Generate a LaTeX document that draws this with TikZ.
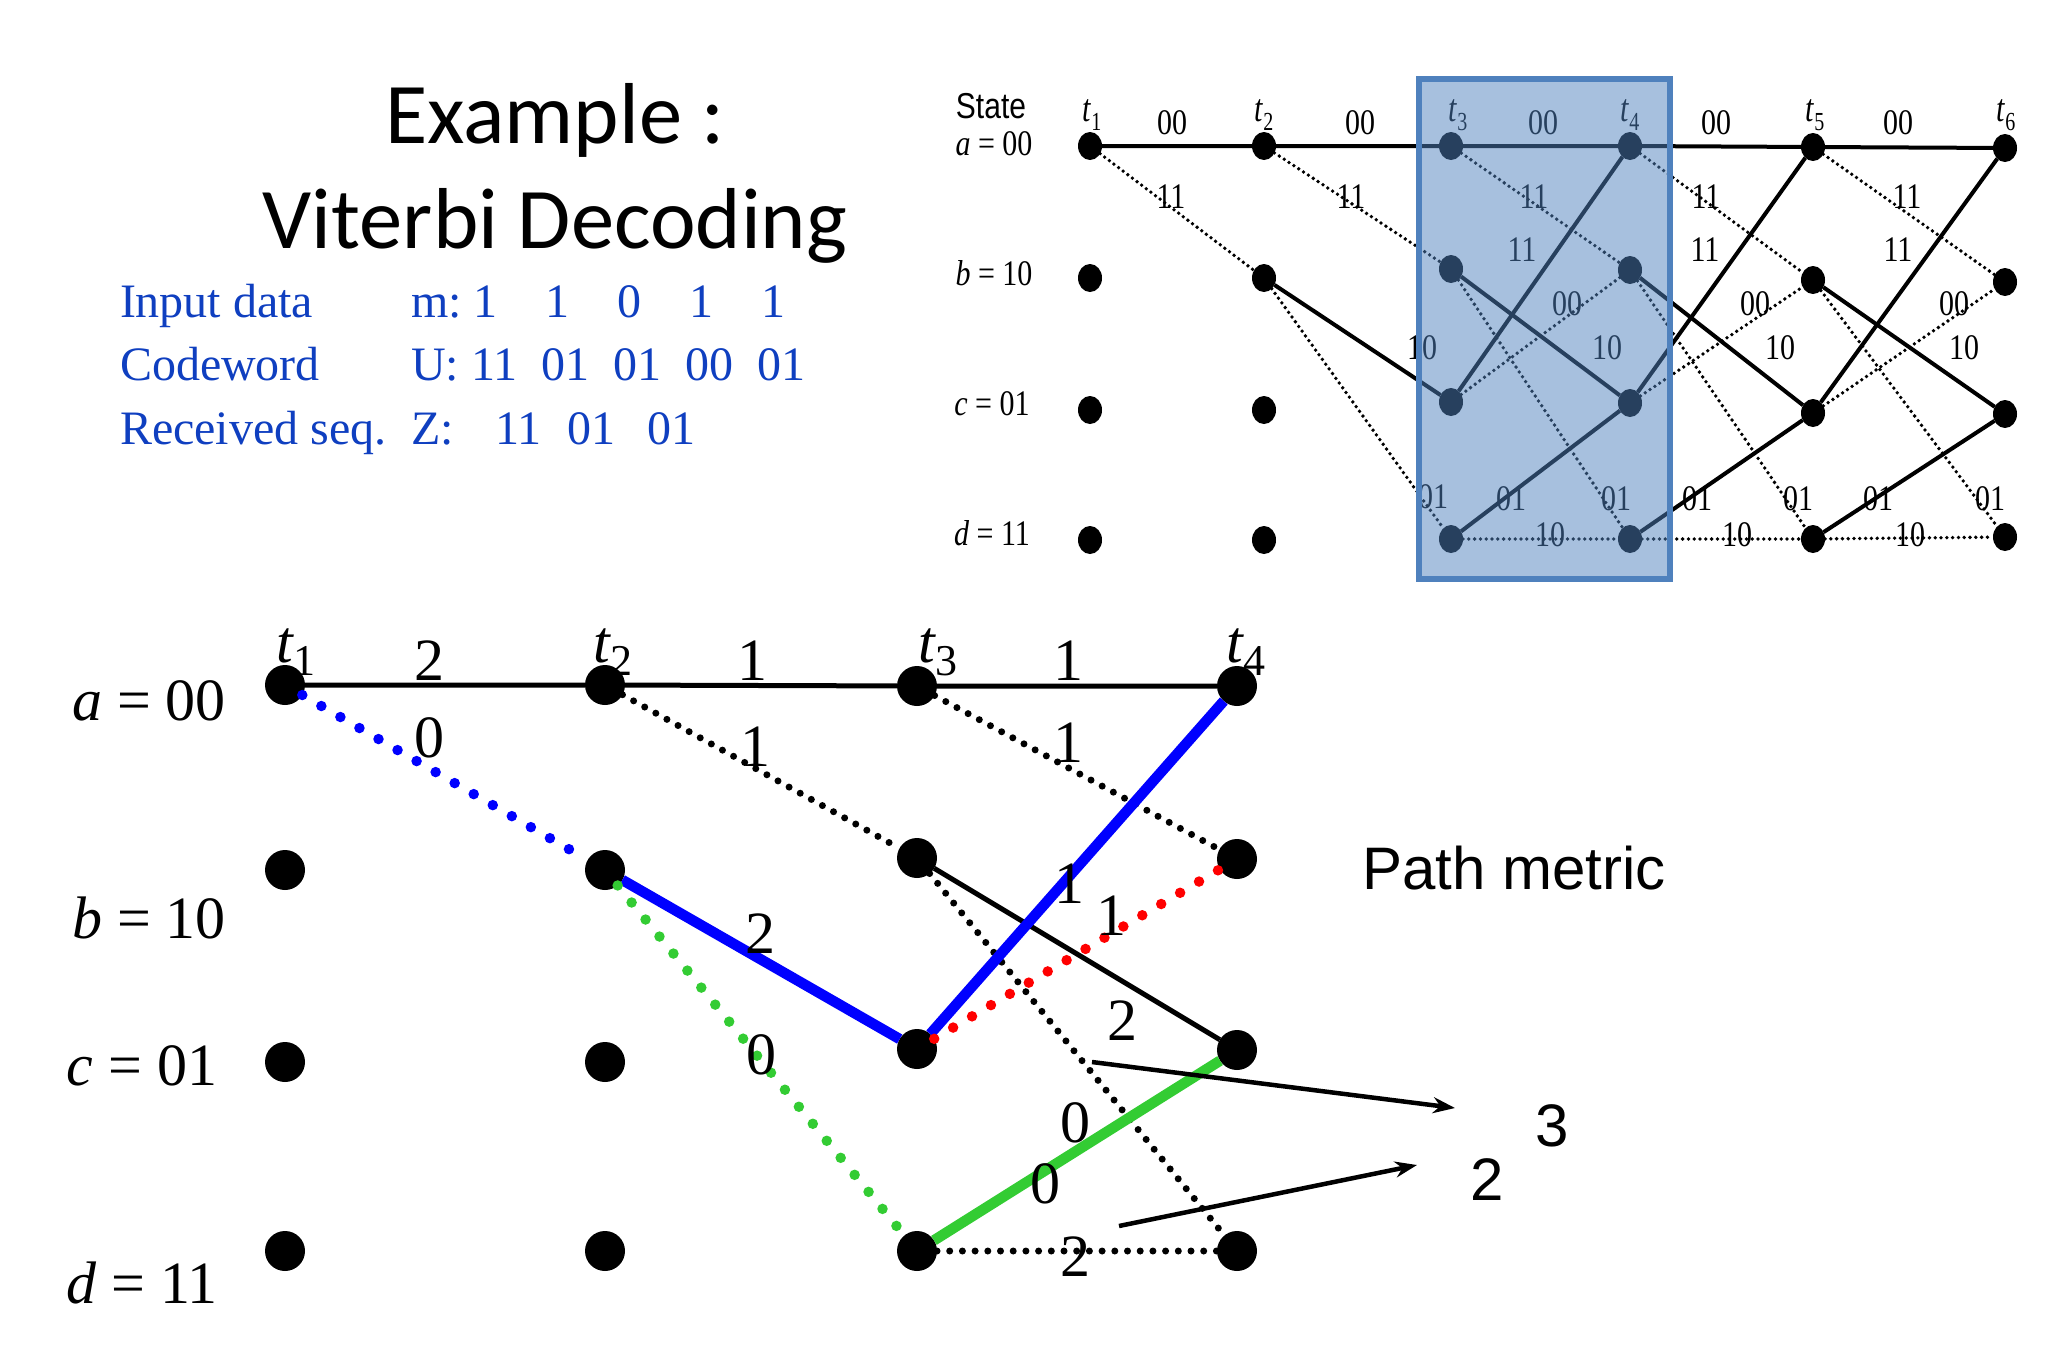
\documentclass[tikz,border=0pt]{standalone}
\usepackage{fontspec}
\usepackage{graphicx}
\setmainfont{Liberation Serif}
\newfontfamily\arialf{Liberation Sans}
\newfontfamily\calib{Carlito}
\usetikzlibrary{arrows.meta,shapes.geometric}
\definecolor{inkblue}{HTML}{0F3FC0}
\definecolor{boxblue}{HTML}{4F81BD}
\definecolor{pgreen}{HTML}{33CC33}
\newcommand{\sz}[1]{\fontsize{#1}{#1}\selectfont}
\newcommand{\bigt}[1]{\textit{t}\raisebox{-.22em}{\sz{44}#1}}
\newcommand{\smallt}[1]{\textit{t}\raisebox{-.22em}{\sz{20}#1}}
\newcommand{\tall}[1]{\scalebox{1}[1.2]{#1}}
\tikzset{
  txt/.style={inner sep=0pt,outer sep=0pt},
  titletxt/.style={txt,anchor=base,font=\calib\sz{86.5}},
  infotxt/.style={txt,anchor=base west,text=inkblue,font=\sz{48}},
  slabel/.style={txt,font=\sz{30}},
  blabel/.style={txt,font=\sz{60}},
  sanslabel/.style={txt,font=\arialf\sz{60}},
  sdot/.style={ellipse,fill=black,inner sep=0pt,minimum width=24pt,minimum height=28pt,outer sep=0pt},
  bdot/.style={circle,fill=black,inner sep=0pt,minimum size=40pt,outer sep=0pt},
  ssolid/.style={line width=4pt},
  sdotted/.style={line width=3.8pt,line cap=round,dash pattern=on 0pt off 5.8pt},
  bsolid/.style={line width=5pt},
  bdotted/.style={line width=7pt,line cap=round,dash pattern=on 0pt off 12.7pt},
  bthick/.style={line width=10.5pt},
  cdotted/.style={line width=10.5pt,line cap=round,dash pattern=on 0pt off 22pt},
  pointer/.style={line width=4.5pt,-{Stealth[length=22pt,width=16pt]}},
  hilite/.style={draw=boxblue,line width=6pt,fill=boxblue,fill opacity=.5,draw opacity=1},
}
\begin{document}
\begin{tikzpicture}[x=1pt,y=-1pt]
\useasboundingbox (0,0) rectangle (2048,1365);
% title and info
\node[titletxt] (title1) at (555,143) {Example :};
\node[titletxt] (title2) at (555,248) {Viterbi Decoding};
\node[infotxt] (i1) at (120,317) {Input data};
\node[infotxt] (i2) at (120,380) {Codeword};
\node[infotxt] (i3) at (120,444) {Received seq.};
\node[infotxt] (v1) at (411,317) {m:~1~~~~1~~~~0~~~~1~~~~1};
\node[infotxt] (v2) at (411,380) {U:~11~~01~~01~~00~~01};
\node[infotxt] (v3) at (411,444) {Z:\hspace{42pt}11\hspace{25.6pt}01\hspace{32.5pt}01};
% small trellis
\foreach \n/\x/\y in {a1/1090/146,a2/1264/146,a3/1451/146,a4/1630/146,a5/1813/147,a6/2005/148,
  b1/1090/278,b2/1264/278,b3/1451/269,b4/1630/270,b5/1813/280,b6/2005/282,
  c1/1090/410,c2/1264/410,c3/1451/402,c4/1630/403,c5/1813/413,c6/2005/414,
  d1/1090/540,d2/1264/540,d3/1451/539,d4/1630/539,d5/1813/539,d6/2005/537}
  \node[sdot] (\n) at (\x,\y) {};
\draw[ssolid] (a1)--(a2)--(a3)--(a4)--(a5)--(a6);
\foreach \p/\q in {a1/b2,a2/b3,a3/b4,a4/b5,a5/b6,c3/b4,c4/b5,c5/b6,b2/d3,b3/d4,b4/d5,b5/d6,d3/d4,d4/d5,d5/d6}
  \draw[sdotted] (\p)--(\q);
\foreach \p/\q in {b2/c3,b3/c4,b4/c5,b5/c6,c3/a4,c4/a5,c5/a6,d3/c4,d4/c5,d5/c6}
  \draw[ssolid] (\p)--(\q);
\foreach \n/\x/\y/\t in {s1/1172/123/00,s2/1360/123/00,s3/1543/123/00,s4/1716/123/00,s5/1898/123/00,
  s6/1171/197/11,s7/1351/197/11,s8/1534/197/11,s9/1706/197/11,s10/1907/197/11,
  s11/1522/250/11,s12/1705/250/11,s13/1898/250/11,
  s14/1567/304/00,s15/1755/304/00,s16/1954/304/00,
  s17/1422/348/10,s18/1607/348/10,s19/1780/348/10,s20/1964/348/10,
  s21/1433/497/01,s22/1511/499/01,s23/1616/499/01,s24/1697/499/01,s25/1798/499/01,s26/1878/499/01,s27/1990/499/01,
  s28/1550/535/10,s29/1737/535/10,s30/1910/535/10}
  \node[slabel] (\n) at (\x,\y) {\tall{\t}};
\foreach \n/\x/\t in {st1/1092/1,st2/1264/2,st3/1458/3,st4/1630/4,st5/1815/5,st6/2006/6}
  \node[slabel] (\n) at (\x,115) {\scalebox{1}[1.3]{\smallt{\t}}};
\node[txt,font=\arialf\sz{30}] (state) at (991,106) {\tall{State}};
\node[slabel] (la) at (994,144) {\tall{\textit{a} = 00}};
\node[slabel] (lb) at (994,273) {\tall{\textit{b} = 10}};
\node[slabel] (lc) at (992,404) {\tall{\textit{c} = 01}};
\node[slabel] (ld) at (992,533) {\tall{\textit{d} = 11}};
\node[hilite,minimum width=251pt,minimum height=500.5pt,inner sep=0pt] (box) at (1544.5,328.75) {};
% large trellis
\foreach \n/\x/\y in {A1/285/685,A2/605/685,A3/917/686,A4/1237/686,
  B1/285/870,B2/605/870,B3/917/858,B4/1237/859,
  C1/285/1062,C2/605/1062,C3/917/1049,C4/1237/1050,
  D1/285/1251,D2/605/1251,D3/917/1251,D4/1237/1251}
  \node[bdot] (\n) at (\x,\y) {};
\draw[bsolid] (A1)--(A2)--(A3)--(A4);
\foreach \p/\q in {A2/B3,A3/B4,B3/D4,D3/D4}
  \draw[bdotted] (\p)--(\q);
\draw[bsolid] (B3)--(C4);
\draw[bthick,blue] (B2)--(C3);
\draw[bthick,blue] (C3)--(A4);
\draw[bthick,pgreen] (D3)--(C4);
\draw[cdotted,blue] (A1)--(B2);
\draw[cdotted,pgreen] (B2)--(D3);
\draw[cdotted,red] (C3)--(B4);
\foreach \n/\x/\t in {T1/296/1,T2/613/2,T3/938/3,T4/1246/4}
  \node[txt,font=\sz{60}] (\n) at (\x,652) {\bigt{\t}};
\foreach \n/\x/\y/\t in {m1/429/661/2,m2/429/738/0,m3/752/661/1,m4/755/747/1,m5/760/934/2,m6/761/1055/0,
  m7/1068/661/1,m8/1068/743/1,m9/1069/884/1,m10/1111/916/1,m11/1122/1021/2,m12/1075/1123/0,m13/1045/1184/0,m14/1075/1257/2}
  \node[blabel] (\n) at (\x,\y) {\t};
\node[blabel] (La) at (149,701) {\textit{a} = 00};
\node[blabel] (Lb) at (149,918) {\textit{b} = 10};
\node[blabel] (Lc) at (142,1066) {\textit{c} = 01};
\node[blabel] (Ld) at (142,1283) {\textit{d} = 11};
\node[sanslabel] (pm) at (1514,868) {Path metric};
\node[sanslabel] (v3n) at (1552,1126) {3};
\node[sanslabel] (v2n) at (1487,1180) {2};
\coordinate (p1s) at (1092,1062);
\coordinate (p1e) at (1455,1108);
\coordinate (p2s) at (1119,1226);
\coordinate (p2e) at (1417,1165);
\draw[pointer] (p1s)--(p1e);
\draw[pointer] (p2s)--(p2e);
\end{tikzpicture}
\end{document}
